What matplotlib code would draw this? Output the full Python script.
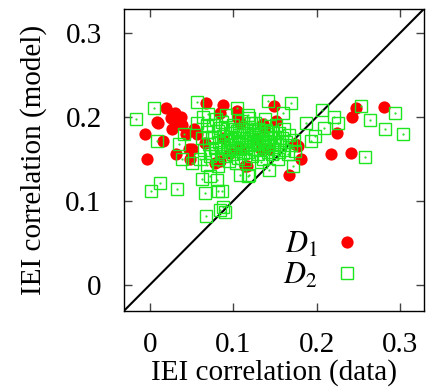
# IEI correlation: model vs data scatter
import matplotlib
matplotlib.use('Agg')
import matplotlib.pyplot as plt

plt.rcParams['font.family'] = ['Liberation Serif', 'DejaVu Serif']
plt.rcParams['mathtext.fontset'] = 'stix'

# D1 points (red filled circles)
d1_x = [0.247, 0.280, 0.242, 0.224, 0.217, 0.241, 0.019, 0.009, -0.006, -0.004,
        0.025, 0.037, 0.030, 0.033, 0.027, 0.016, 0.067, 0.084, 0.053, 0.043,
        0.031, 0.047, 0.088, 0.149, 0.104, 0.151, 0.135, 0.177, 0.181, 0.106,
        0.167, 0.116, 0.050, 0.137, 0.114, 0.078, 0.108, 0.088, 0.127, 0.143,
        0.096, 0.133, 0.039, 0.056, 0.066, 0.048, 0.108, 0.084, 0.174, 0.010]
d1_y = [0.210, 0.211, 0.199, 0.181, 0.156, 0.157, 0.210, 0.194, 0.179, 0.150,
        0.198, 0.200, 0.204, 0.193, 0.185, 0.171, 0.216, 0.204, 0.185, 0.179,
        0.155, 0.161, 0.214, 0.213, 0.207, 0.195, 0.191, 0.165, 0.150, 0.198,
        0.131, 0.141, 0.161, 0.187, 0.141, 0.145, 0.161, 0.175, 0.173, 0.161,
        0.157, 0.161, 0.190, 0.179, 0.169, 0.149, 0.193, 0.147, 0.167, 0.193]

# D2 points (green open squares)
d2_x = [0.253, 0.293, 0.264, 0.282, 0.303, 0.257, 0.206, 0.221, 0.225, 0.209,
        0.198, 0.193, -0.017, 0.005, 0.057, 0.070, 0.009, 0.035, 0.041, 0.012,
        0.001, 0.033, 0.063, 0.066, 0.082, 0.067, 0.084, 0.080, 0.141, 0.169,
        0.187, 0.159, 0.104, 0.090, 0.119, 0.086, 0.143, 0.171, 0.038, 0.050,
        0.087, 0.072, 0.108, 0.117, 0.068, 0.084, 0.072, 0.068, 0.082, 0.074,
        0.096, 0.119, 0.121, 0.131, 0.102,
        0.062, 0.065, 0.069, 0.071, 0.073, 0.075, 0.077, 0.078, 0.080, 0.081,
        0.083, 0.085, 0.086, 0.088, 0.089, 0.090, 0.092, 0.093, 0.094, 0.095,
        0.097, 0.098, 0.099, 0.100, 0.101, 0.102, 0.104, 0.105, 0.106, 0.107,
        0.108, 0.109, 0.110, 0.111, 0.112, 0.113, 0.114, 0.115, 0.116, 0.117,
        0.118, 0.119, 0.120, 0.121, 0.122, 0.123, 0.124, 0.125, 0.126, 0.127,
        0.128, 0.129, 0.130, 0.131, 0.132, 0.133, 0.134, 0.135, 0.136, 0.137,
        0.138, 0.139, 0.140, 0.141, 0.142, 0.143, 0.144, 0.145, 0.146, 0.147,
        0.148, 0.149, 0.150, 0.151, 0.152, 0.154, 0.155, 0.156, 0.158, 0.160,
        0.161, 0.163, 0.165, 0.167, 0.169, 0.172, 0.174, 0.057, 0.060, 0.064,
        0.079, 0.091, 0.103, 0.118, 0.133, 0.153, 0.096, 0.124]
d2_y = [0.213, 0.204, 0.196, 0.185, 0.179, 0.152, 0.208, 0.200, 0.192, 0.187,
        0.177, 0.171, 0.197, 0.210, 0.217, 0.203, 0.171, 0.167, 0.179, 0.121,
        0.111, 0.114, 0.126, 0.109, 0.111, 0.082, 0.089, 0.125, 0.218, 0.216,
        0.192, 0.204, 0.210, 0.087, 0.131, 0.111, 0.137, 0.141, 0.149, 0.145,
        0.093, 0.129, 0.131, 0.129, 0.190, 0.187, 0.153, 0.143, 0.141, 0.175,
        0.173, 0.198, 0.192, 0.183, 0.185,
        0.175, 0.160, 0.182, 0.168, 0.157, 0.190, 0.176, 0.163, 0.150, 0.183,
        0.170, 0.158, 0.194, 0.177, 0.165, 0.153, 0.185, 0.172, 0.160, 0.147,
        0.180, 0.167, 0.190, 0.156, 0.174, 0.163, 0.183, 0.170, 0.151, 0.178,
        0.162, 0.195, 0.168, 0.157, 0.185, 0.175, 0.148, 0.164, 0.180, 0.171,
        0.158, 0.188, 0.166, 0.176, 0.153, 0.183, 0.170, 0.161, 0.192, 0.178,
        0.167, 0.155, 0.185, 0.173, 0.162, 0.180, 0.169, 0.150, 0.176, 0.164,
        0.197, 0.184, 0.171, 0.158, 0.179, 0.166, 0.189, 0.174, 0.155, 0.182,
        0.168, 0.161, 0.176, 0.190, 0.170, 0.158, 0.181, 0.166, 0.174, 0.160,
        0.185, 0.170, 0.155, 0.178, 0.166, 0.172, 0.159, 0.193, 0.150, 0.200,
        0.197, 0.202, 0.145, 0.202, 0.146, 0.150, 0.163, 0.179]

ticks = [0, 0.1, 0.2, 0.3]
tick_labels = ['0', '0.1', '0.2', '0.3']

fig = plt.figure(figsize=(4.26, 3.91), dpi=100)
ax = fig.add_axes([0.291, 0.205, 0.704, 0.772])

lims = (-0.031, 0.328)
ax.plot(lims, lims, color='black', lw=1.5, zorder=1)

red = '#ff0000'
green = '#1ee61e'
ax.plot(d1_x, d1_y, 'o', ms=8.8, color=red, mec=red, mew=0, label='$D_1$', zorder=2)
ax.plot(d2_x, d2_y, 's', ms=8.4, mfc='none', mec=green, mew=1.0, label='$D_2$', zorder=3)
ax.plot(d2_x, d2_y, '.', ms=1.2, color=green, zorder=3)

ax.set_xlim(lims)
ax.set_ylim(lims)
ax.set_xticks(ticks)
ax.set_xticklabels(tick_labels)
ax.set_yticks(ticks)
ax.set_yticklabels(tick_labels)
ax.tick_params(direction='in', length=6, width=1, top=True, right=True,
               labelsize=21, color='#444444')
ax.tick_params(axis='x', pad=15)
ax.tick_params(axis='y', pad=16)
for s in ax.spines.values():
    s.set_linewidth(1.0)

ax.set_xlabel('IEI correlation (data)', fontsize=21, labelpad=1)
ax.set_ylabel('IEI correlation (model)', fontsize=21, labelpad=13)

ax.legend(loc='lower left', bbox_to_anchor=(0.48, 0.017), frameon=False,
          markerfirst=False, fontsize=22, handlelength=1.0, handletextpad=0.45,
          labelspacing=0.05, borderpad=0)

fig.savefig('out.png', dpi=100)
